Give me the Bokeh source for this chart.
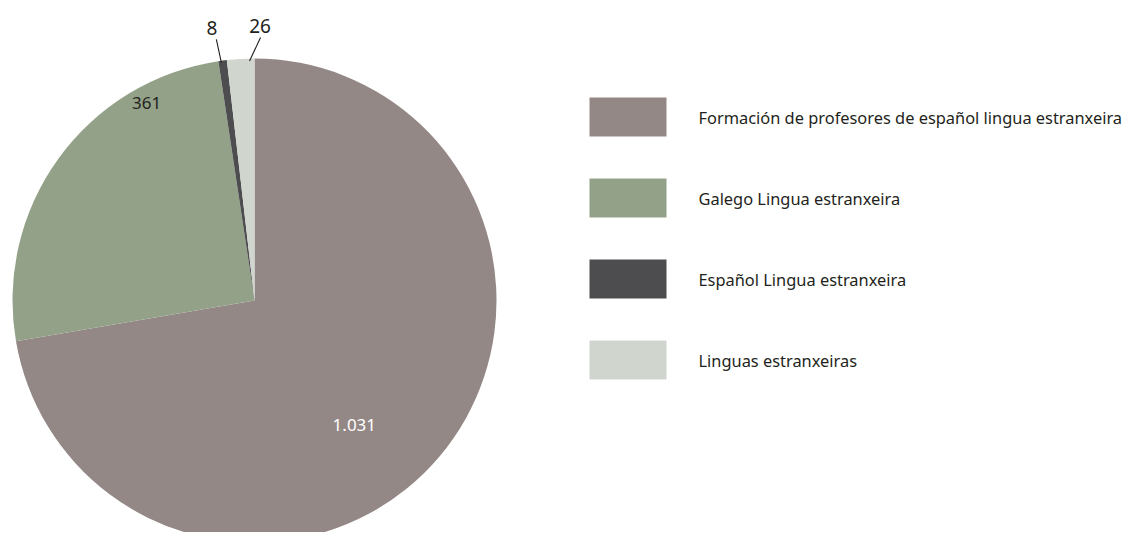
import numpy as np
from bokeh.plotting import figure
from bokeh.models import Range1d, ColumnDataSource
from bokeh.core.properties import value
from bokeh.embed import file_html
from bokeh.resources import INLINE

# ---- data ----
categories = ["Formación de profesores de español lingua estranxeira",
              "Galego Lingua estranxeira",
              "Español Lingua estranxeira",
              "Linguas estranxeiras"]
values = [1031, 361, 8, 26]
labels = ["1.031", "361", "8", "26"]
colors = ["#938886", "#94a189", "#4d4d4f", "#d0d5ce"]
label_colors = ["#ffffff", "#231f20", "#231f20", "#231f20"]

W, H = 1128, 532
FONT = "Noto Sans"
cx, cy, R = 254, 232, 242

p = figure(width=W, height=H, output_backend="svg", toolbar_location=None,
           x_range=Range1d(0, W), y_range=Range1d(0, H), min_border=0)
p.axis.visible = False
p.grid.visible = False
p.outline_line_color = None
p.background_fill_color = "white"

vals = np.array(values, dtype=float)
total = vals.sum()
cum = np.concatenate([[0], np.cumsum(vals)])
start = np.pi / 2 - 2 * np.pi * cum[:-1] / total
end = np.pi / 2 - 2 * np.pi * cum[1:] / total
mid = (start + end) / 2

src = ColumnDataSource(dict(start=start, end=end, color=colors))
p.wedge(x=cx, y=cy, radius=R, start_angle="start", end_angle="end",
        direction="clock", fill_color="color", line_color=None, source=src)

# inner labels
rad_frac = [0.66, 0.93]
ang_adj = [-0.195, -0.445]
for i in range(2):
    a = mid[i] + ang_adj[i]
    lx = cx + np.cos(a) * R * rad_frac[i]
    ly = cy + np.sin(a) * R * rad_frac[i]
    p.text(x=[lx], y=[ly], text=[labels[i]], text_color=label_colors[i],
           text_font=value(FONT), text_font_size="17px",
           text_align="center", text_baseline="middle")

# outer labels with leader lines
lab_dx = {2: -6.3, 3: 21.3}
inner_dx = {2: -1.5, 3: 8.8}
top_dx = {2: 4.4, 3: 0.5}
for i in (2, 3):
    ix = cx + np.cos(mid[i]) * (R - 2) + inner_dx[i]
    iy = cy + np.sin(mid[i]) * (R - 2)
    lx = cx + np.cos(mid[i]) * (R + 33) + lab_dx[i]
    ly = cy + np.sin(mid[i]) * (R + 33)
    p.line(x=[ix, lx + top_dx[i]], y=[iy, ly - 11.5],
           line_color="#231f20", line_width=1.1)
    p.text(x=[lx], y=[ly], text=[labels[i]], text_color=label_colors[i],
           text_font=value(FONT), text_font_size="19px",
           text_align="center", text_baseline="middle")

# legend
n = len(categories)
idx = np.arange(n)
leg_y = 415.5 - idx * 81
p.rect(x=[627.5] * n, y=leg_y, width=77, height=39, fill_color=colors, line_color=None)
p.text(x=[698] * n, y=leg_y, text=categories, text_color="#231f20",
       text_font=value(FONT), text_font_size="16.4px",
       text_align="left", text_baseline="middle")

open("out.html", "w").write(file_html(p, INLINE))
